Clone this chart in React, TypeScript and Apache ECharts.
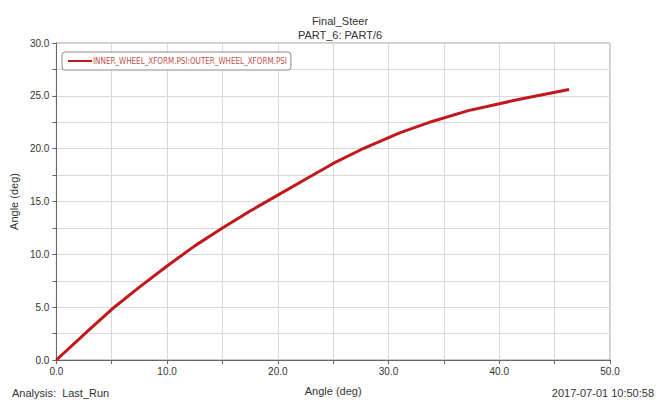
import React, { useEffect, useRef } from "react";
import * as echarts from "echarts";

const xValues = [0, 2.9, 5, 7.5, 10, 12.5, 15, 17.5, 20, 22.5, 25, 27.5, 31.0, 34.0, 37.2, 41.5, 46.3];
const yValues = [0, 2.8, 4.8, 6.9, 8.9, 10.8, 12.5, 14.1, 15.6, 17.1, 18.6, 19.9, 21.5, 22.6, 23.6, 24.6, 25.6];
const seriesName = "INNER_WHEEL_XFORM.PSI:OUTER_WHEEL_XFORM.PSI";
const titleLines = ["Final_Steer", "PART_6: PART/6"];
const axisName = "Angle (deg)";
const footerLeft = "Analysis:  Last_Run";
const footerRight = "2017-07-01 10:50:58";

const FONT = "'Liberation Sans', Arial, sans-serif";
const NARROW = "'DejaVu Sans Condensed', 'Liberation Sans Narrow', 'Liberation Sans', sans-serif";
const TXT = "#333";

export default function App() {
  const ref = useRef<HTMLDivElement>(null);
  useEffect(() => {
    if (!ref.current) return;
    const chart = echarts.init(ref.current, undefined, { renderer: "svg" });
    const data = xValues.map((x, i) => [x, yValues[i]]);
    chart.setOption({
      animation: false,
      backgroundColor: "#fff",
      textStyle: { fontFamily: FONT },
      title: {
        text: titleLines.join("\n"),
        left: 335,
        textAlign: "center",
        top: 9,
        textStyle: { fontSize: 11, fontWeight: "normal", color: TXT, lineHeight: 14, fontFamily: FONT },
      },
      legend: {
        left: 62,
        top: 52,
        orient: "horizontal",
        icon: "rect",
        itemWidth: 24,
        itemHeight: 2,
        itemGap: 2,
        padding: [5, 4, 5, 6],
        borderColor: "#888",
        borderWidth: 1,
        borderRadius: 3,
        backgroundColor: "#fff",
        textStyle: { fontSize: 8, color: "#c0504d", fontFamily: NARROW, padding: [0, 0, 0, -4] },
        data: [seriesName],
      },
      grid: {
        left: 55,
        right: 48,
        top: 43,
        bottom: 38,
        show: true,
        borderColor: "#999",
        borderWidth: 1,
        containLabel: false,
      },
      xAxis: {
        type: "value",
        min: 0,
        max: 50,
        interval: 5,
        name: axisName,
        nameLocation: "middle",
        nameGap: 25,
        nameTextStyle: { fontSize: 11, color: TXT, fontFamily: FONT },
        axisLine: { show: true, lineStyle: { color: "#666", width: 1 } },
        axisTick: { show: true, length: 4, inside: false, lineStyle: { color: "#666" } },
        axisLabel: {
          fontSize: 10,
          color: TXT,
          margin: 6,
          fontFamily: FONT,
          formatter: (v: number) => (v % 10 === 0 ? v.toFixed(1) : ""),
        },
        splitLine: { show: true, lineStyle: { color: "#d9d9d9", width: 1 } },
      },
      yAxis: {
        type: "value",
        min: 0,
        max: 30,
        interval: 2.5,
        name: axisName,
        nameLocation: "middle",
        nameGap: 36,
        nameTextStyle: { fontSize: 11, color: TXT, fontFamily: FONT },
        axisLine: { show: true, lineStyle: { color: "#666", width: 1 } },
        axisTick: { show: true, length: 4, inside: false, lineStyle: { color: "#666" } },
        axisLabel: {
          fontSize: 10,
          color: TXT,
          margin: 7,
          fontFamily: FONT,
          formatter: (v: number) => (v % 5 === 0 ? v.toFixed(1) : ""),
        },
        splitLine: { show: true, lineStyle: { color: "#d9d9d9", width: 1 } },
      },
      graphic: [
        {
          type: "text",
          left: 12,
          top: 387,
          style: { text: footerLeft, fontSize: 11, fill: TXT, fontFamily: FONT },
        },
        {
          type: "text",
          right: 4,
          top: 387,
          style: { text: footerRight, fontSize: 11, fill: TXT, fontFamily: FONT },
        },
      ],
      series: [
        {
          name: seriesName,
          type: "line",
          data,
          showSymbol: false,
          symbol: "none",
          smooth: false,
          lineStyle: { color: "#c0181c", width: 3 },
          itemStyle: { color: "#c0181c" },
        },
      ],
    });
    return () => chart.dispose();
  }, []);
  return <div ref={ref} style={{ width: 658, height: 401, position: "absolute", left: 0, top: 0 }} />;
}
